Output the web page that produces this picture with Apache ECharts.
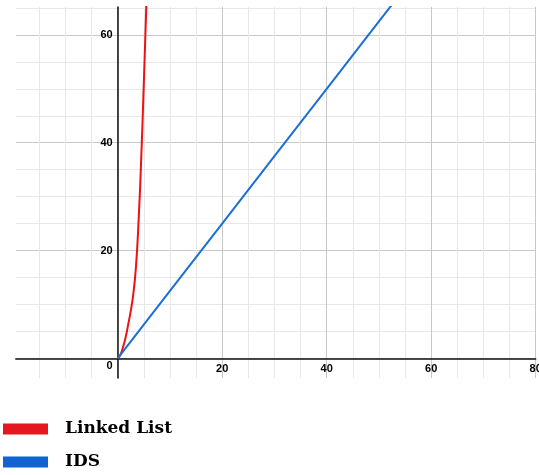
<!DOCTYPE html>
<html>
<head>
<meta charset="utf-8">
<script src="https://cdn.jsdelivr.net/npm/echarts@6/dist/echarts.min.js"></script>
<style>
  html, body { margin: 0; padding: 0; background: #fff; }
  #main { width: 539px; height: 475px; }
</style>
</head>
<body>
<div id="main"></div>
<script>
// values
var linkedX = [0, 0.5, 1, 1.5, 2, 2.5, 3, 3.5, 4, 4.5, 5, 5.5];
var linkedY = [0, 0.6, 2, 3.8, 6.2, 8.8, 12, 17, 25.5, 37, 51, 66];
var idsX = [0, 10, 20, 30, 40, 50, 55];
var idsY = [0, 12.5, 25, 37.5, 50, 62.5, 68.75];

// grid lines and tick labels
var xGridTicks = [-15, -10, -5, 0, 5, 10, 15, 20, 25, 30, 35, 40, 45, 50, 55, 60, 65, 70, 75, 80];
var xLabelTicks = [20, 40, 60, 80];
var yGridTicks = [0, 5, 10, 15, 20, 25, 30, 35, 40, 45, 50, 55, 60, 65];
var yLabelTicks = [0, 20, 40, 60];

function pairs(xs, ys) {
    return xs.map(function (x, i) { return [x, ys[i]]; });
}

var LIGHT = '#e8e8e8', DARK = '#c8c8c8';
var labelFont = { color: '#000', fontSize: 11, fontWeight: 'bold', fontFamily: 'Liberation Sans' };

var myChart = echarts.init(document.getElementById('main'));
myChart.setOption({
    animation: false,
    backgroundColor: '#fff',
    grid: { left: 15.8, right: 3.3, top: 6.9, bottom: 97, outerBoundsMode: 'none', containLabel: false },
    legend: {
        orient: 'vertical',
        left: 3,
        top: 420,
        padding: 0,
        itemWidth: 45,
        itemHeight: 11,
        itemGap: 15,
        icon: 'rect',
        textStyle: {
            fontFamily: 'DejaVu Serif',
            fontWeight: 'bold',
            fontSize: 17,
            lineHeight: 18,
            color: '#000',
            padding: [0, 0, 0, 12]
        },
        data: ['Linked List', 'IDS']
    },
    xAxis: {
        type: 'value',
        min: -19.5,
        max: 80,
        position: 'bottom',
        offset: -19.7,
        axisLine: { onZero: false, lineStyle: { color: '#111', width: 1.5 } },
        axisTick: { show: false, customValues: xGridTicks },
        axisLabel: Object.assign({ customValues: xLabelTicks, margin: 5 }, labelFont),
        splitLine: {
            show: true,
            lineStyle: { color: [LIGHT, LIGHT, LIGHT, DARK], width: 1 }
        }
    },
    yAxis: {
        type: 'value',
        min: -3.66,
        max: 65.2,
        position: 'left',
        offset: -101.9,
        axisLine: { onZero: false, lineStyle: { color: '#111', width: 1.5 } },
        axisTick: { show: false, customValues: yGridTicks },
        axisLabel: Object.assign({
            customValues: yLabelTicks,
            margin: 5,
            formatter: function (v) { return v === 0 ? '{z|0}' : v; },
            rich: { z: Object.assign({ padding: [16, 0, 0, 0] }, labelFont) }
        }, labelFont),
        splitLine: {
            show: true,
            lineStyle: { color: [DARK, LIGHT, LIGHT, LIGHT], width: 1 }
        }
    },
    series: [
        {
            name: 'Linked List',
            type: 'line',
            smooth: 0.5,
            showSymbol: false,
            color: '#e3191f',
            lineStyle: { width: 2, color: '#ee1111' },
            data: pairs(linkedX, linkedY)
        },
        {
            name: 'IDS',
            type: 'line',
            showSymbol: false,
            color: '#1262d2',
            lineStyle: { width: 2, color: '#1a6fd6' },
            data: pairs(idsX, idsY)
        }
    ]
});
</script>
</body>
</html>
